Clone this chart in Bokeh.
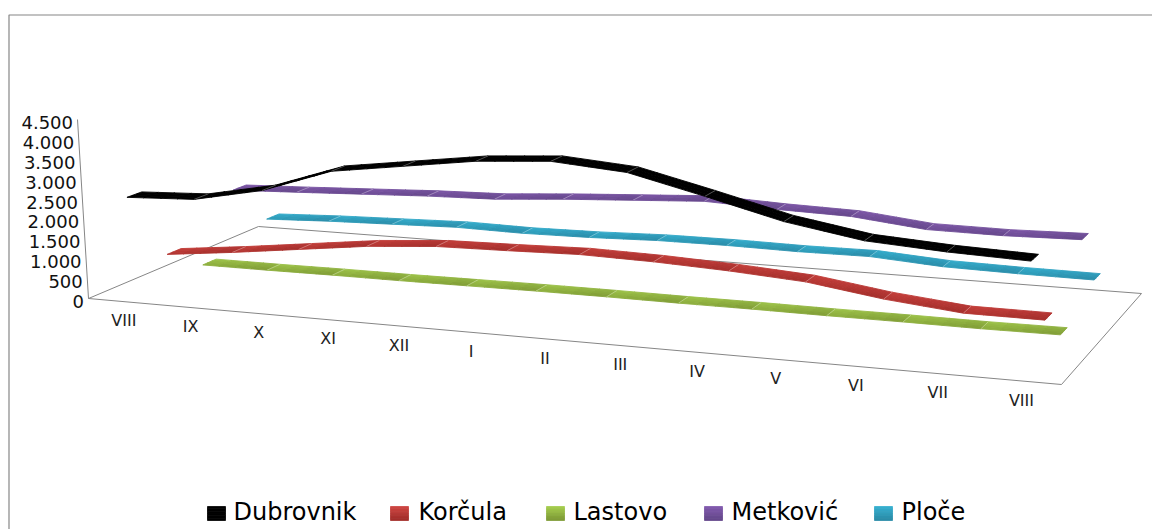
from bokeh.plotting import figure
from bokeh.models import Range1d
from bokeh.core.properties import value
from bokeh.embed import file_html
from bokeh.resources import INLINE

months = ["VIII", "IX", "X", "XI", "XII", "I", "II", "III", "IV", "V", "VI", "VII", "VIII"]
value_ticks = [0, 500, 1000, 1500, 2000, 2500, 3000, 3500, 4000, 4500]
value_tick_labels = ["0", "500", "1.000", "1.500", "2.000", "2.500", "3.000", "3.500", "4.000", "4.500"]

dubrovnik = [2500, 2570, 2910, 3500, 3735, 3970, 4080, 3930, 3490, 3030, 2720, 2600, 2530]
korcula = [685, 870, 1080, 1290, 1420, 1450, 1490, 1450, 1370, 1250, 990, 810, 800]
lastovo = [30, 30, 40, 40, 50, 60, 60, 50, 50, 40, 40, 30, 40]
metkovic = [1660, 1720, 1790, 1860, 1900, 2020, 2115, 2210, 2130, 2080, 1885, 1865, 1900]
ploce = [520, 590, 635, 680, 650, 670, 720, 725, 700, 710, 590, 555, 540]

# drawn back to front
series = [
    ("Ploče", ploce, 0.9, "#35AECE", "#2A8CA8"),
    ("Metković", metkovic, 0.7, "#7E58A8", "#65478B"),
    ("Lastovo", lastovo, 0.5, "#9FC54A", "#7F9C36"),
    ("Korčula", korcula, 0.3, "#C6403C", "#A32E2B"),
    ("Dubrovnik", dubrovnik, 0.1, "#000000", "#000000"),
]
legend_items = [
    ("Dubrovnik", "#000000", "#000000", 207, 233),
    ("Korčula", "#CC4440", "#A32E2B", 390, 418),
    ("Lastovo", "#A3CB4C", "#7F9C36", 546, 573),
    ("Metković", "#8059AC", "#65478B", 704, 731),
    ("Ploče", "#35AECE", "#2A8CA8", 874, 901),
]

# floor corners of the 3-D box as seen on the page
A = (88, 298)    # front left
D = (1061, 384)  # front right
C = (1141, 293)  # back right
B = (258, 226)   # back left
UNIT = 179 / 4500       # page px per unit at the front-left corner
LEAN = 11 / (488 * 179)  # outward lean of verticals
MID_X = 576

sx, sy = A[0] - D[0] + C[0] - B[0], A[1] - D[1] + C[1] - B[1]
d1x, d1y = D[0] - C[0], D[1] - C[1]
d2x, d2y = B[0] - C[0], B[1] - C[1]
det = d1x * d2y - d1y * d2x
G = (sx * d2y - sy * d2x) / det
H = (d1x * sy - d1y * sx) / det
ax, bx = D[0] * (1 + G) - A[0], B[0] * (1 + H) - A[0]
ay, by = D[1] * (1 + G) - A[1], B[1] * (1 + H) - A[1]


def project(u, s, v=0.0):
    w = 1 + G * u + H * s
    x = (ax * u + bx * s + A[0]) / w
    y = (ay * u + by * s + A[1]) / w
    hp = v * UNIT / w
    return x + (x - MID_X) * LEAN * hp, y - hp


def lerp_color(c1, c2, t):
    a = [int(c1[i:i + 2], 16) for i in (1, 3, 5)]
    b = [int(c2[i:i + 2], 16) for i in (1, 3, 5)]
    return "#%02x%02x%02x" % tuple(round(p + (q - p) * t) for p, q in zip(a, b))


WIDTH, HEIGHT = 1152, 529
p = figure(width=WIDTH, height=HEIGHT, output_backend="svg", toolbar_location=None,
           x_range=Range1d(0, WIDTH), y_range=Range1d(HEIGHT, 0),
           min_border=0, outline_line_color=None, background_fill_color="white")
p.axis.visible = False
p.grid.visible = False

FRAME = "#868686"
p.line([8.5, 8.5, WIDTH], [HEIGHT, 14.5, 14.5], line_color=FRAME, line_width=1.2)

# box
ux = [0, 1, 1, 0, 0]
sz = [0, 0, 1, 1, 0]
fx, fy = zip(*[project(u, s) for u, s in zip(ux, sz)])
p.line(list(fx), list(fy), line_color=FRAME, line_width=1)
wx, wy = zip(*[project(0, 0, v) for v in (0, value_ticks[-1])])
p.line(list(wx), list(wy), line_color=FRAME, line_width=1)

# ribbons
N = len(months)
us = [(i + 0.5) / N for i in range(N)]
HALF = 0.04
ACROSS, ALONG = 3, 4
for name, vals, depth, light, dark in series:
    xs, ys, cols = [], [], []
    sx_, sy_ = [], []
    for i in range(N - 1):
        for a in range(ACROSS):
            s_top = depth + HALF - 2 * HALF * a / ACROSS
            s_bot = depth + HALF - 2 * HALF * (a + 1) / ACROSS
            for b in range(ALONG):
                t0, t1 = b / ALONG, (b + 1) / ALONG
                u0 = us[i] + (us[i + 1] - us[i]) * t0
                u1 = us[i] + (us[i + 1] - us[i]) * t1
                v0 = vals[i] + (vals[i + 1] - vals[i]) * t0
                v1 = vals[i] + (vals[i + 1] - vals[i]) * t1
                pts = [project(u0, s_top, v0), project(u1, s_top, v1),
                       project(u1, s_bot, v1), project(u0, s_bot, v0)]
                xs.append([q[0] for q in pts])
                ys.append([q[1] for q in pts])
                cols.append(lerp_color(light, dark, 0.55 * (a + 0.5) / ACROSS + 0.45 * (b + 0.5) / ALONG))
    p.patches(xs, ys, fill_color=cols, line_color=cols, line_width=0.9, line_join="round")
    for i in range(1, N - 1):
        q0 = project(us[i], depth - HALF, vals[i])
        q1 = project(us[i], depth + HALF, vals[i])
        sx_.append([q0[0], q1[0]])
        sy_.append([q0[1], q1[1]])
    p.multi_line(sx_, sy_, line_color="white", line_alpha=0.4, line_width=0.8)

# value axis labels
lx, ly = [], []
for v in value_ticks:
    x, y = project(0, 0, v)
    lx.append(x - 4.5)
    ly.append(y + 3)
p.text(lx, ly, text=value_tick_labels, text_align="right", text_baseline="middle",
       text_font=value("DejaVu Sans"), text_font_size="18px", text_color="#111111")

# category labels
cx, cy = [], []
for u in us:
    x, y = project(u, 0)
    cx.append(x + 2.5)
    cy.append(y + 19.5)
p.text(cx, cy, text=months, text_align="center", text_baseline="middle",
       text_font=value("DejaVu Sans"), text_font_size="16px", text_color="#222222")

# legend
STEPS = 6
for name, light, dark, sw_x, tx_x in legend_items:
    top, bottom = 506, 520
    for k in range(STEPS):
        y0 = top + (bottom - top) * k / STEPS
        y1 = top + (bottom - top) * (k + 1) / STEPS
        c = lerp_color(light, dark, k / (STEPS - 1))
        p.quad(left=[sw_x], right=[sw_x + 18], top=[y0], bottom=[y1], fill_color=c, line_color=c, line_width=0.8)
    p.text([tx_x], [511], text=[name], text_align="left", text_baseline="middle",
           text_font=value("DejaVu Sans"), text_font_size="24px", text_color="#000000")

open("out.html", "w").write(file_html(p, INLINE))
